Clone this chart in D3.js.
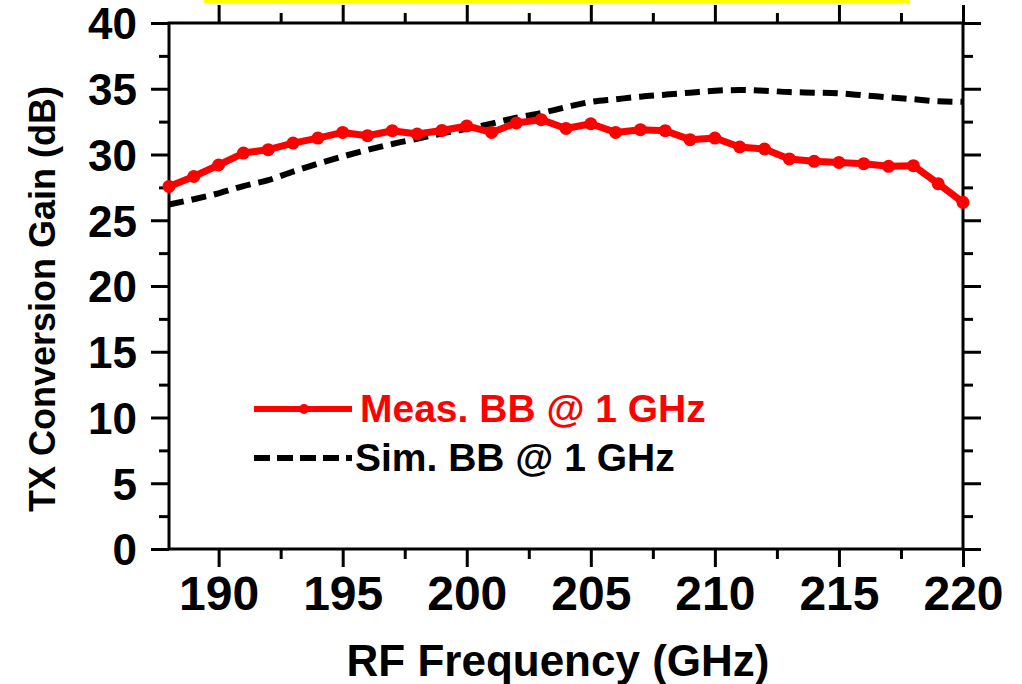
<!DOCTYPE html>
<html>
<head>
<meta charset="utf-8">
<script src="https://cdn.jsdelivr.net/npm/d3@7"></script>
<style>
  body { margin: 0; background: #fff; }
  svg { font-family: "Liberation Sans", Arial, sans-serif; font-weight: bold; }
  .tick line { stroke: #000; stroke-width: 3; }
  .domain { display: none; }
</style>
</head>
<body>
<svg id="chart" width="1022" height="684"></svg>
<script>
// data
const freqs = d3.range(188, 221);  // GHz, one point per GHz
const measGain = [27.57, 28.33, 29.2, 30.11, 30.37, 30.87, 31.25, 31.68, 31.43, 31.81,
  31.56, 31.83, 32.17, 31.68, 32.4, 32.65, 31.98, 32.34, 31.68, 31.89, 31.81,
  31.13, 31.25, 30.57, 30.42, 29.66, 29.48, 29.4, 29.3, 29.1, 29.15, 27.78, 26.36];
const simGain = [26.2, 26.6, 27.05, 27.6, 28.05, 28.7, 29.3, 29.85, 30.35, 30.8,
  31.2, 31.6, 31.95, 32.35, 32.8, 33.15, 33.6, 34.0, 34.2, 34.4, 34.55,
  34.7, 34.85, 34.9, 34.85, 34.75, 34.7, 34.65, 34.5, 34.35, 34.2, 34.05, 34.0];
const xMajor = [190, 195, 200, 205, 210, 215, 220];
const xMinor = [192.5, 197.5, 202.5, 207.5, 212.5, 217.5];
const yMajor = [0, 5, 10, 15, 20, 25, 30, 35, 40];
const yMinor = [2.5, 7.5, 12.5, 17.5, 22.5, 27.5, 32.5, 37.5];
const legendItems = ["Meas. BB @ 1 GHz", "Sim. BB @ 1 GHz"];

const svg = d3.select("#chart");
const plotL = 169, plotR = 963, plotT = 23, plotB = 549;

const x = d3.scaleLinear().domain([188, 220]).range([plotL, plotR]);
const y = d3.scaleLinear().domain([0, 40]).range([plotB, plotT]);

// yellow strip at the very top
svg.append("rect").attr("x", 204).attr("y", 0).attr("width", 706).attr("height", 3).attr("fill", "#ffff00");

// axes: major ticks 18px, minor 10px, all pointing outward
const g = svg.append("g");
g.append("g").attr("transform", `translate(0,${plotB})`)
  .call(d3.axisBottom(x).tickValues(xMajor).tickSize(18).tickPadding(9).tickFormat(d3.format("d")))
  .call(a => a.selectAll("text").attr("font-size", 48).attr("font-weight", "bold").attr("fill", "#000")
    .attr("font-family", "Liberation Sans, Arial, sans-serif"));
g.append("g").attr("transform", `translate(0,${plotB})`)
  .call(d3.axisBottom(x).tickValues(xMinor).tickSize(10).tickFormat(""));
g.append("g").attr("transform", `translate(0,${plotT})`)
  .call(d3.axisTop(x).tickValues(xMajor).tickSize(18).tickFormat(""));
g.append("g").attr("transform", `translate(0,${plotT})`)
  .call(d3.axisTop(x).tickValues(xMinor).tickSize(10).tickFormat(""));
g.append("g").attr("transform", `translate(${plotL},0)`)
  .call(d3.axisLeft(y).tickValues(yMajor).tickSize(18).tickPadding(14).tickFormat(d3.format("d")))
  .call(a => a.selectAll("text").attr("font-size", 44).attr("font-weight", "bold").attr("fill", "#000")
    .attr("dy", "0.36em").attr("font-family", "Liberation Sans, Arial, sans-serif"));
g.append("g").attr("transform", `translate(${plotL},0)`)
  .call(d3.axisLeft(y).tickValues(yMinor).tickSize(10).tickFormat(""));
g.append("g").attr("transform", `translate(${plotR},0)`)
  .call(d3.axisRight(y).tickValues(yMajor).tickSize(18).tickFormat(""));
g.append("g").attr("transform", `translate(${plotR},0)`)
  .call(d3.axisRight(y).tickValues(yMinor).tickSize(10).tickFormat(""));

// frame
svg.append("rect")
  .attr("x", plotL).attr("y", plotT)
  .attr("width", plotR - plotL).attr("height", plotB - plotT)
  .attr("fill", "none").attr("stroke", "#000").attr("stroke-width", 3);

// simulated (dashed)
const simLine = d3.line().x((d, i) => x(freqs[i])).y(d => y(d)).curve(d3.curveMonotoneX);
svg.append("path").datum(simGain)
  .attr("d", simLine)
  .attr("fill", "none").attr("stroke", "#000")
  .attr("stroke-width", 6).attr("stroke-dasharray", "15,8");

// measured (red with dots)
const measLine = d3.line().x((d, i) => x(freqs[i])).y(d => y(d));
svg.append("path").datum(measGain)
  .attr("d", measLine)
  .attr("fill", "none").attr("stroke", "#ff0000")
  .attr("stroke-width", 7).attr("stroke-linejoin", "round");
svg.selectAll("circle.meas").data(measGain).join("circle")
  .attr("class", "meas")
  .attr("cx", (d, i) => x(freqs[i])).attr("cy", d => y(d))
  .attr("r", 6.5).attr("fill", "#ff0000");

// legend
const leg = svg.append("g");
leg.append("line").attr("x1", 254).attr("x2", 352).attr("y1", 409).attr("y2", 409)
  .attr("stroke", "#ff0000").attr("stroke-width", 6);
leg.append("circle").attr("cx", 304).attr("cy", 409).attr("r", 5).attr("fill", "#ff0000");
leg.append("line").attr("x1", 254).attr("x2", 352).attr("y1", 458).attr("y2", 458)
  .attr("stroke", "#000").attr("stroke-width", 6).attr("stroke-dasharray", "16,7");
leg.append("text").attr("x", 360).attr("y", 422).attr("font-size", 39).attr("fill", "#ff0000")
  .text(legendItems[0]);
leg.append("text").attr("x", 355).attr("y", 471).attr("font-size", 39).attr("fill", "#000")
  .text(legendItems[1]);

// axis titles
svg.append("text")
  .attr("x", 558).attr("y", 676)
  .attr("text-anchor", "middle").attr("font-size", 44)
  .text("RF Frequency (GHz)");
svg.append("text")
  .attr("transform", "translate(55,299) rotate(-90)")
  .attr("text-anchor", "middle").attr("font-size", 36)
  .text("TX Conversion Gain (dB)");
</script>
</body>
</html>
